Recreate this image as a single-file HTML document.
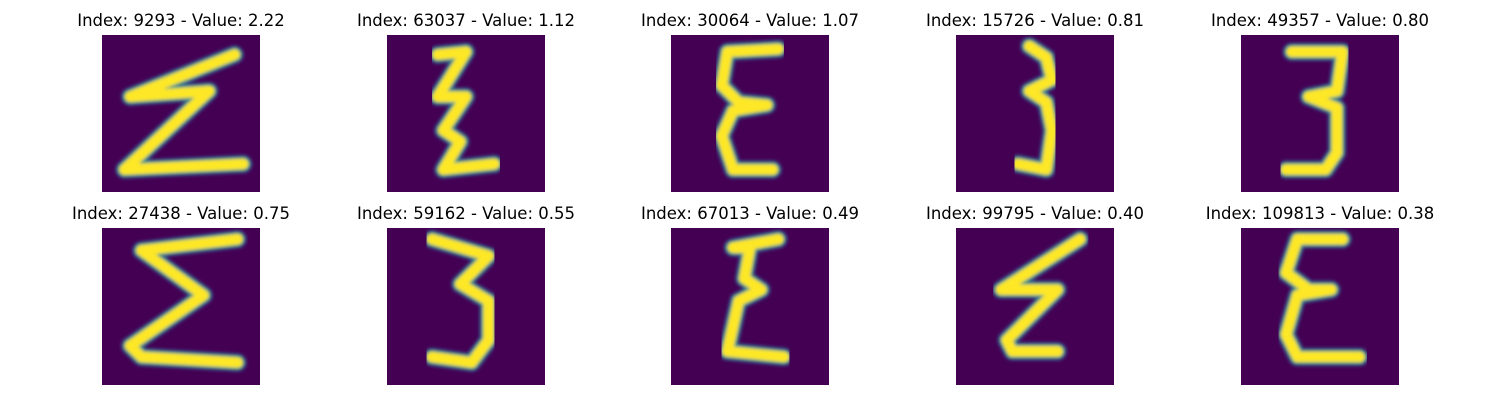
<!DOCTYPE html>
<html><head><meta charset="utf-8"><style>
html,body{margin:0;padding:0;background:#fff;width:1500px;height:400px;overflow:hidden}
svg{display:block}
text{font-family:"DejaVu Sans","Liberation Sans",sans-serif;font-size:16.5px;fill:#000}
</style></head><body>
<svg id="chart" width="1500" height="400" xmlns="http://www.w3.org/2000/svg">
<defs><filter id="blur" x="-10%" y="-10%" width="120%" height="120%"><feGaussianBlur stdDeviation="0.3"/></filter></defs>
</svg>
<script>
const indices=[9293,63037,30064,15726,49357,27438,59162,67013,99795,109813];
const values=[2.22,1.12,1.07,0.81,0.80,0.75,0.55,0.49,0.40,0.38];
const strokes=[
 [[23.5,3.5],[5,11],[19,10],[4,24],[25,23]],
 [[9,3.5],[14,3],[9,11],[14,11],[10,17],[13,19],[10,24],[19,23]],
 [[19,2.5],[10,3],[9,9],[12,12],[17,12.5],[11,13.5],[9,18],[11,24],[18,24]],
 [[13,2],[16,4],[17,8],[13,10],[16,12],[17,17],[16,24],[11,23]],
 [[9,3],[18,3],[17,10],[12,11],[17,13],[17,21],[15,24],[8,24]],
 [[24,2],[7,4],[18,12],[5,21],[7,23],[24,24]],
 [[8,2],[18,5],[13,10],[18,13],[18,20],[15,24],[8,23]],
 [[19,2],[11,3.5],[14,3.5],[13,9],[16,11],[12,13],[10,22],[20,23]],
 [[22,2],[8,11],[18,11],[9,20],[10,22],[18,22]],
 [[18,2],[10,2],[8,8],[12,11],[16,11],[10,12],[8,19],[10,23],[21,23]]
];
const NS="http://www.w3.org/2000/svg";
const svg=document.getElementById('chart');
const colX=[102,387,671,956,1241], rowY=[35,228], W=158, H=157;
function mk(t,a){const e=document.createElementNS(NS,t);for(const k in a)e.setAttribute(k,a[k]);return e;}
for(let i=0;i<indices.length;i++){
  const x=colX[i%5], y=rowY[Math.floor(i/5)];
  const g=mk('g',{transform:`translate(${x},${y}) scale(${W/28},${H/28})`});
  
  
  g.appendChild(mk('rect',{x:0,y:0,width:28,height:28,fill:'#440154'}));
  const pts=strokes[i].map(p=>p.join(',')).join(' ');
  const gg=mk('g',{filter:'url(#blur)'});
  gg.appendChild(mk('polyline',{points:pts,fill:'none',stroke:'#3b528b','stroke-width':3.2,'stroke-linejoin':'round','stroke-linecap':'round'}));
  gg.appendChild(mk('polyline',{points:pts,fill:'none',stroke:'#21918c','stroke-width':2.6,'stroke-linejoin':'round','stroke-linecap':'round'}));
  gg.appendChild(mk('polyline',{points:pts,fill:'none',stroke:'#fde725','stroke-width':1.9,'stroke-linejoin':'round','stroke-linecap':'round'}));
  g.appendChild(gg);
  svg.appendChild(g);
  const t=mk('text',{x:x+W/2,y:y-9,'text-anchor':'middle'});
  t.textContent=`Index: ${indices[i]} - Value: ${values[i].toFixed(2)}`;
  
  
  svg.appendChild(t);
}
</script>
</body></html>
